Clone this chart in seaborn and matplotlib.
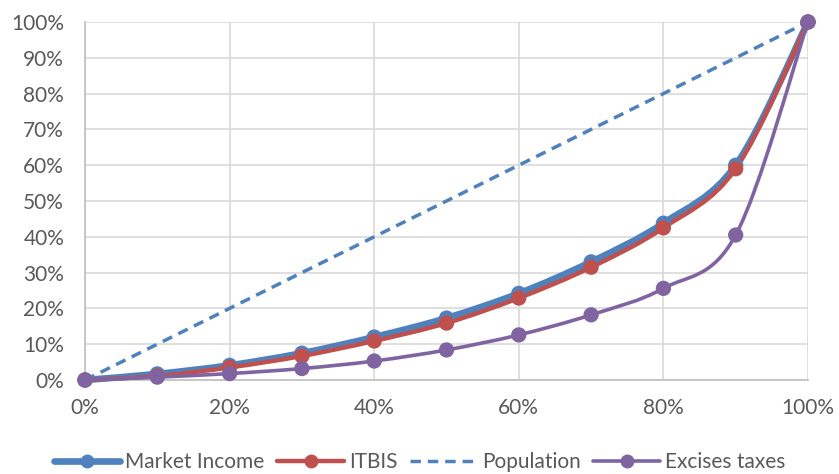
import numpy as np
import matplotlib
matplotlib.use("Agg")
import matplotlib.pyplot as plt
import seaborn as sns
import pandas as pd
from matplotlib.path import Path
from matplotlib.patches import PathPatch
from matplotlib.lines import Line2D
from matplotlib.ticker import PercentFormatter

# Data (cumulative shares, %)
deciles = [0, 10, 20, 30, 40, 50, 60, 70, 80, 90, 100]
market_income = [0, 1.7, 4.1, 7.5, 12.0, 17.3, 24.2, 33.0, 43.8, 60.0, 100]
itbis = [0, 1.1, 3.5, 6.7, 10.9, 15.9, 22.9, 31.5, 42.5, 59.0, 100]
population = [0, 10, 20, 30, 40, 50, 60, 70, 80, 90, 100]
excises = [0, 0.8, 1.8, 3.2, 5.3, 8.4, 12.6, 18.2, 25.6, 40.5, 100]

names = ["Market Income", "ITBIS", "Population", "Excises taxes"]
colors = ["#4f81bd", "#c0504d", "#4f81bd", "#8064a2"]
series = [market_income, itbis, population, excises]

sns.set_theme(style="white")
plt.rcParams['font.family'] = ['Lato', 'DejaVu Sans']

fig = plt.figure(figsize=(8.39, 4.74), dpi=100)
ax = fig.add_axes([85/839, 1-380/474, (808-85)/839, (380-22)/474])

def smooth_path(xs, ys, t=1/6):
    xs = np.asarray(xs, float); ys = np.asarray(ys, float)
    pts = np.column_stack([xs, ys])
    verts = [pts[0]]
    codes = [Path.MOVETO]
    n = len(pts)
    for i in range(n - 1):
        p0 = pts[i - 1] if i > 0 else pts[i]
        p1 = pts[i]
        p2 = pts[i + 1]
        p3 = pts[i + 2] if i + 2 < n else pts[i + 1]
        c1 = p1 + (p2 - p0) * t
        c2 = p2 - (p3 - p1) * t
        verts += [c1, c2, p2]
        codes += [Path.CURVE4] * 3
    return Path(verts, codes)

styles = [
    dict(lw=4.8, ls='-', marker='o', ms=11),
    dict(lw=3.2, ls='-', marker='o', ms=11),
    dict(lw=2.5, ls=(0, (3, 2)), marker=None, ms=0),
    dict(lw=2.6, ls='-', marker='o', ms=11),
]

rows = []
for name, vals in zip(names, series):
    for x, v in zip(deciles, vals):
        rows.append(dict(decile=x, share=v, series=name))
df = pd.DataFrame(rows)

handles = []
for name, vals, c, st in zip(names, series, colors, styles):
    path = smooth_path(deciles, vals) if name != "Population" else Path(np.column_stack([deciles, vals]))
    patch = PathPatch(path, facecolor='none', edgecolor=c, lw=st['lw'], ls=st['ls'],
                      capstyle='butt', joinstyle='round', clip_on=False, zorder=3)
    ax.add_patch(patch)
    if st['marker']:
        sub = df[df.series == name]
        sns.scatterplot(data=sub, x='decile', y='share', ax=ax, color=c, s=st['ms']**2,
                        edgecolor='none', linewidth=0, clip_on=False, zorder=4, legend=False)
    handles.append(Line2D([0], [0], color=c, lw=st['lw'], ls=st['ls'], marker=st['marker'],
                          ms=st['ms'] - 1, markeredgewidth=0))

ax.set_xlim(0, 100)
ax.set_ylim(0, 100)
ax.set_xticks(range(0, 101, 20))
ax.set_yticks(range(0, 101, 10))
ax.xaxis.set_major_formatter(PercentFormatter(decimals=0))
ax.yaxis.set_major_formatter(PercentFormatter(decimals=0))
ax.grid(True, color='#d9d9d9', lw=1.2)
ax.set_axisbelow(True)
for s in ['top', 'right']:
    ax.spines[s].set_visible(False)
for s in ['left', 'bottom']:
    ax.spines[s].set_color('#bfbfbf')
    ax.spines[s].set_linewidth(1.2)
ax.tick_params(axis='both', colors='#595959', labelsize=15, length=0)
ax.tick_params(axis='y', pad=15)
ax.tick_params(axis='x', pad=13)
ax.set_xlabel('')
ax.set_ylabel('')

leg = fig.legend(handles, names, loc='center', bbox_to_anchor=(0.5, 1-462/474), ncol=4,
                 frameon=False, fontsize=15, handlelength=3.2, handletextpad=0.25,
                 columnspacing=0.6, labelcolor='#595959')

fig.savefig('out.png', dpi=100)
